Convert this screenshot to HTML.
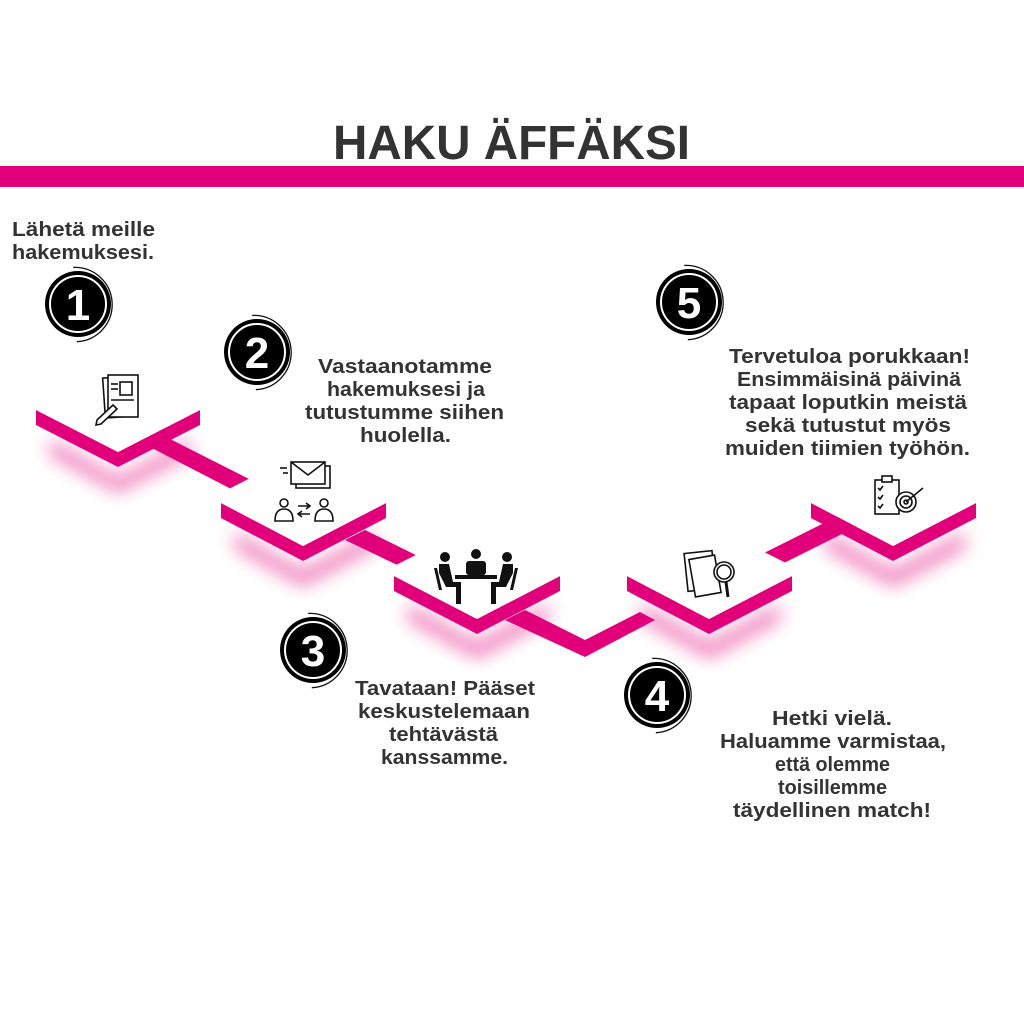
<!DOCTYPE html>
<html><head><meta charset="utf-8"><style>
html,body{margin:0;padding:0;background:#fff}
svg{display:block}
text{font-family:"Liberation Sans",sans-serif;font-weight:bold;fill:#333}
</style></head><body>
<svg width="1024" height="1024" viewBox="0 0 1024 1024" xmlns="http://www.w3.org/2000/svg">
<defs>
<filter id="bl" x="-30%" y="-50%" width="160%" height="200%"><feGaussianBlur stdDeviation="9"/></filter>
<g id="num">
 <path d="M8,-36 A37,37 0 0 1 -14,35" fill="none" stroke="#111" stroke-width="1.3" transform="rotate(-20)"/>
 <circle r="33" fill="#000"/>
 <circle r="28" fill="none" stroke="#fff" stroke-width="2"/>
</g>
</defs>
<rect width="1024" height="1024" fill="#fff"/>
<text x="333" y="159" font-size="48" textLength="357" lengthAdjust="spacingAndGlyphs">HAKU ÄFFÄKSI</text>
<rect x="0" y="166" width="1024" height="21" fill="#e2007a"/>

<!-- shadows -->
<g fill="#e2007a" opacity="0.55" filter="url(#bl)">
 <path d="M50,440 L118,478 L190,440 L190,455 L118,492 L50,455Z"/>
 <path d="M235,533 L303,571 L375,533 L375,548 L303,586 L235,548Z"/>
 <path d="M408,605 L477,643 L548,605 L548,620 L477,658 L408,620Z"/>
 <path d="M641,605 L709,643 L780,605 L780,620 L709,658 L641,620Z"/>
 <path d="M825,533 L893,571 L965,533 L965,548 L893,586 L825,548Z"/>
</g>
<!-- connectors -->
<g fill="#e2007a">
 <path d="M148,446 L166,437 L255,482 L237,492Z"/>
 <path d="M345,540 L365,530 L430,562 L412,572Z"/>
 <path d="M505,620 L525,610 L585,640 L640,612 L655,620 L585,657Z"/>
 <path d="M760,555 L840,515 L860,525 L780,565Z"/>
</g>
<!-- blocks -->
<g fill="#e2007a">
 <path d="M36,410 L118,452 L200,410 L200,425 L118,467 L36,425Z"/>
 <path d="M221,503 L303,546 L386,503 L386,518 L303,561 L221,518Z"/>
 <path d="M394,576 L477,619 L560,576 L560,591 L477,634 L394,591Z"/>
 <path d="M627,576 L709,619 L792,576 L792,591 L709,634 L627,591Z"/>
 <path d="M811,503 L893,546 L976,503 L976,518 L893,561 L811,518Z"/>
</g>
<g fill="#fff">
 <path d="M36,410 L118,452 L200,410 L200,400 L118,358 L36,400Z"/>
 <path d="M221,503 L303,546 L386,503 L386,493 L303,451 L221,493Z"/>
 <path d="M394,576 L477,619 L560,576 L560,566 L477,524 L394,566Z"/>
 <path d="M627,576 L709,619 L792,576 L792,566 L709,524 L627,566Z"/>
 <path d="M811,503 L893,546 L976,503 L976,493 L893,451 L811,493Z"/>
</g>

<!-- icons -->
<g fill="none" stroke="#111" stroke-width="1.6">
 <rect x="104" y="377" width="32" height="40" transform="rotate(-4 120 397)"/>
 <rect x="108" y="375" width="30" height="42" fill="#fff"/>
 <rect x="120" y="382" width="12" height="13"/>
 <line x1="111" y1="384" x2="118" y2="384"/><line x1="111" y1="389" x2="118" y2="389"/><line x1="111" y1="400" x2="134" y2="400"/>
 <path d="M97,420 L113,405 L117,409 L101,424 L96,425Z" fill="#fff"/>
 <rect x="296" y="466" width="34" height="22"/><rect x="291" y="462" width="34" height="22" fill="#fff"/>
 <path d="M291,462 L308,475 L325,462"/>
 <line x1="280" y1="468" x2="287" y2="468"/><line x1="283" y1="473" x2="288" y2="473"/>
 <circle cx="284" cy="503" r="4"/><path d="M275,521 Q275,509 284,509 Q293,509 293,521Z"/>
 <circle cx="324" cy="503" r="4"/><path d="M315,521 Q315,509 324,509 Q333,509 333,521Z"/>
 <path d="M298,506 L310,506 M306,503 L310,506 L306,509 M310,514 L298,514 M302,511 L298,514 L302,517"/>
 <rect x="686" y="552" width="28" height="38" transform="rotate(-6 700 571)"/>
 <rect x="692" y="557" width="26" height="38" fill="#fff" transform="rotate(-10 705 576)"/>
 <circle cx="724" cy="572" r="10" fill="#fff"/><circle cx="724" cy="572" r="7"/>
 <line x1="726" y1="582" x2="728" y2="597" stroke-width="3"/>
 <rect x="875" y="480" width="24" height="34"/><rect x="882" y="476" width="10" height="6" fill="#fff"/>
 <path d="M878,488 l2,2 l3,-4 M878,497 l2,2 l3,-4 M878,506 l2,2 l3,-4"/>
 <circle cx="906" cy="502" r="10" fill="#fff"/><circle cx="906" cy="502" r="6"/><circle cx="906" cy="502" r="2"/>
 <path d="M906,502 L923,488"/>
</g>
<g fill="#111">
 <circle cx="445" cy="557" r="5"/><circle cx="476" cy="554" r="5"/><circle cx="507" cy="557" r="5"/>
 <rect x="466" y="561" width="20" height="14" rx="3"/>
 <rect x="455" y="575" width="42" height="4"/>
 <path d="M439,564 h10 l4,18 h8 v22 h-5 v-17 h-10 l-7,-14Z"/>
 <path d="M513,564 h-10 l-4,18 h-8 v22 h5 v-17 h10 l7,-14Z"/>
 <path d="M434,568 l3,0 l5,22 l-3,0Z"/><path d="M518,568 l-3,0 l-5,22 l3,0Z"/>
</g>

<!-- numbers -->
<use href="#num" x="78" y="304"/><text x="78" y="320" font-size="44" style="fill:#fff" text-anchor="middle">1</text>
<use href="#num" x="257" y="352"/><text x="257" y="368" font-size="44" style="fill:#fff" text-anchor="middle">2</text>
<use href="#num" x="313" y="650"/><text x="313" y="666" font-size="44" style="fill:#fff" text-anchor="middle">3</text>
<use href="#num" x="657" y="695"/><text x="657" y="711" font-size="44" style="fill:#fff" text-anchor="middle">4</text>
<use href="#num" x="689" y="302"/><text x="689" y="318" font-size="44" style="fill:#fff" text-anchor="middle">5</text>

<!-- texts -->
<g font-size="20">
<text x="12" y="236" textLength="143" lengthAdjust="spacingAndGlyphs">Lähetä meille</text>
<text x="12" y="259" textLength="142" lengthAdjust="spacingAndGlyphs">hakemuksesi.</text>

<text x="318" y="373" textLength="174" lengthAdjust="spacingAndGlyphs">Vastaanotamme</text>
<text x="327" y="396" textLength="158" lengthAdjust="spacingAndGlyphs">hakemuksesi ja</text>
<text x="305" y="419" textLength="199" lengthAdjust="spacingAndGlyphs">tutustumme siihen</text>
<text x="360" y="442" textLength="91" lengthAdjust="spacingAndGlyphs">huolella.</text>

<text x="355" y="695" textLength="180" lengthAdjust="spacingAndGlyphs">Tavataan! Pääset</text>
<text x="358" y="718" textLength="172" lengthAdjust="spacingAndGlyphs">keskustelemaan</text>
<text x="389" y="741" textLength="109" lengthAdjust="spacingAndGlyphs">tehtävästä</text>
<text x="381" y="764" textLength="127" lengthAdjust="spacingAndGlyphs">kanssamme.</text>

<text x="772" y="725" textLength="120" lengthAdjust="spacingAndGlyphs">Hetki vielä.</text>
<text x="720" y="748" textLength="226" lengthAdjust="spacingAndGlyphs">Haluamme varmistaa,</text>
<text x="775" y="771" textLength="115" lengthAdjust="spacingAndGlyphs">että olemme</text>
<text x="778" y="794" textLength="109" lengthAdjust="spacingAndGlyphs">toisillemme</text>
<text x="733" y="817" textLength="198" lengthAdjust="spacingAndGlyphs">täydellinen match!</text>

<text x="729" y="363" textLength="241" lengthAdjust="spacingAndGlyphs">Tervetuloa porukkaan!</text>
<text x="737" y="386" textLength="224" lengthAdjust="spacingAndGlyphs">Ensimmäisinä päivinä</text>
<text x="729" y="409" textLength="238" lengthAdjust="spacingAndGlyphs">tapaat loputkin meistä</text>
<text x="745" y="432" textLength="206" lengthAdjust="spacingAndGlyphs">sekä tutustut myös</text>
<text x="725" y="455" textLength="245" lengthAdjust="spacingAndGlyphs">muiden tiimien työhön.</text>
</g>
</svg>
</body></html>
